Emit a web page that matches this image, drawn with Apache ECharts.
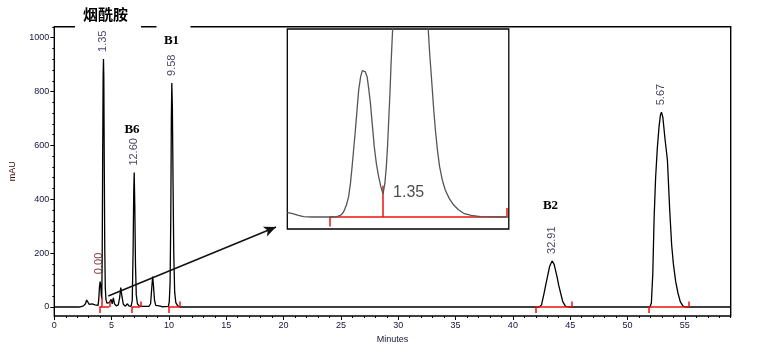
<!DOCTYPE html>
<html>
<head>
<meta charset="utf-8">
<script src="https://cdn.jsdelivr.net/npm/echarts@6/dist/echarts.min.js"></script>
<style>
html, body { margin: 0; padding: 0; background: #fff; }
#chart { width: 757px; height: 352px; }
</style>
</head>
<body>
<div id="chart"></div>
<script>
// chromatogram trace (minutes / mAU)
const traceTime = [0, 2.2, 2.3, 2.55, 2.72, 2.82, 2.88, 2.95, 3.05, 3.2, 3.3, 3.4, 3.55, 3.7, 3.82, 3.88, 3.94, 4.0, 4.05, 4.1,
  4.14, 4.18, 4.22, 4.26, 4.29, 4.32, 4.36, 4.4, 4.45, 4.5, 4.58, 4.68, 4.78, 4.86, 4.96, 5.05, 5.15, 5.25, 5.4, 5.58,
  5.7, 5.8, 5.9, 6.02, 6.2, 6.38, 6.5, 6.7, 6.8, 6.87, 6.93, 6.97, 7.02, 7.08, 7.15, 7.25, 7.4, 7.6, 8.25, 8.4,
  8.5, 8.58, 8.65, 8.74, 8.85, 9.0, 9.15, 9.4, 9.95, 10.03, 10.1, 10.16, 10.21, 10.25, 10.3, 10.36, 10.42, 10.5, 10.6, 10.75,
  10.95, 17.82, 17.9, 17.98, 42.3, 42.5, 42.72, 42.88, 43.02, 43.2, 43.42, 43.6, 43.85, 44.0, 44.17, 44.35, 44.58, 44.8,
  51.95, 52.08, 52.2, 52.32, 52.45, 52.6, 52.75, 52.88, 52.96, 53.08, 53.28, 53.48, 53.68, 53.85, 54.0, 54.2, 54.4, 54.6,
  54.84, 55.1, 59]
const traceMAU = [0, 0, 3, 4, 12, 26, 30, 22, 10, 9, 12, 5, 8, 3, 6, 30, 75, 94, 80, 45,
  30, 200, 560, 860, 921, 850, 520, 220, 70, 30, 14, 8, 16, 10, 28, 12, 34, 12, 4, 8,
  35, 72, 40, 10, 3, 12, 4, 2, 25, 200, 430, 499, 380, 160, 45, 12, 4, 2, 2, 12,
  70, 113, 80, 25, 6, 10, 4, 1, 2, 20, 90, 330, 700, 832, 740, 450, 200, 55, 16, 5,
  0, 0, 4, 0, 0, 8, 51, 85, 113, 150, 171, 158, 113, 80, 51, 20, 3, 0,
  0, 15, 120, 330, 480, 590, 670, 715, 723, 705, 620, 546, 360, 230, 160, 95, 52, 20,
  3, 0, 0]

// peak retention labels
const peakTime = [3.92, 4.26, 6.96, 10.25, 43.4, 52.96]
const peakHeight = [96, 921, 499, 832, 171, 723]
const peakLabel = ['0.00', '1.35', '12.60', '9.58', '32.91', '5.67']

// integration baselines (red)
const intStart = [3.93, 6.77, 9.94, 42.0, 51.87]
const intEnd = [4.8, 7.5, 10.98, 45.16, 55.36]
const intSplit = [4.13]

// inset (zoom of first peak group)
const insetTime = [3.635, 3.652, 3.669, 3.695, 3.724, 3.77, 3.815, 3.87, 3.907, 3.928, 3.943, 3.958, 3.97, 3.98, 3.989,
  3.998, 4.007, 4.016, 4.025, 4.036, 4.045, 4.052, 4.06, 4.071, 4.08, 4.089, 4.1, 4.11, 4.122, 4.134, 4.146,
  4.158, 4.168, 4.176, 4.183, 4.189, 4.196, 4.202, 4.211, 4.23, 4.3, 4.38, 4.404, 4.413, 4.42, 4.426, 4.435,
  4.444, 4.455, 4.467, 4.482, 4.498, 4.52, 4.544, 4.57, 4.598, 4.64, 4.69, 4.84]
const insetMAU = [2.7, 2.4, 1.9, 1.0, 0.2, 0, 0, 0, 0.2, 1.2, 3.3, 7.5, 12.7, 21, 31.5,
  43, 54.4, 67, 79.5, 88, 91.5, 92, 91, 87.8, 80, 71.2, 57, 44, 33, 25.2, 19,
  14.4, 21, 31.5, 45, 60.7, 78, 96.2, 119, 400, 921, 400, 119, 102, 91, 81.5, 67,
  54.4, 42, 31.5, 23, 16.9, 11.5, 7.5, 4.5, 2.3, 1.0, 0.2, 0]
const insetIntStart = 3.865
const insetIntSplit = 4.158
const insetIntEnd = 4.833
const insetLabel = '1.35'

// axis ticks
const xMajor = [0, 5, 10, 15, 20, 25, 30, 35, 40, 45, 50, 55]
const yMajor = [0, 200, 400, 600, 800, 1000]
const yMinor = [0, 40, 80, 120, 160, 200, 240, 280, 320, 360, 400, 440, 480, 520, 560, 600, 640, 680, 720, 760, 800,
  840, 880, 920, 960, 1000, 1040]

const labelColor = '#14143a'
const red = '#ee1111'

const chart = echarts.init(document.getElementById('chart'))

const intLines = []
intStart.forEach((s, i) => {
  intLines.push([{ coord: [s, 0] }, { coord: [intEnd[i], 0] }])
  intLines.push([{ coord: [s, 0] }, { coord: [s, -22] }])
  intLines.push([{ coord: [intEnd[i], 0] }, { coord: [intEnd[i], 20] }])
})
intSplit.forEach((s) => {
  intLines.push([{ coord: [s, 0] }, { coord: [s, 37] }])
})

const option = {
  animation: false,
  backgroundColor: '#fff',
  grid: [
    { left: 54.3, top: 26.7, right: 26.3, bottom: 36, show: true, borderColor: '#000', borderWidth: 1.4,
      backgroundColor: 'transparent', outerBoundsMode: 'none', containLabel: false },
    { left: 287.3, top: 29, width: 221.5, height: 200, show: true, borderColor: '#000', borderWidth: 1.3,
      backgroundColor: '#fff', outerBoundsMode: 'none', containLabel: false, z: 3 }
  ],
  xAxis: [
    {
      gridIndex: 0, type: 'value', min: 0, max: 59, position: 'bottom',
      axisLine: { show: false, onZero: false },
      axisTick: { show: true, customValues: xMajor, length: 4, lineStyle: { color: '#000', width: 1 } },
      axisLabel: { customValues: xMajor, color: labelColor, fontSize: 9, fontFamily: 'Liberation Sans', margin: 5,
        formatter: (v) => String(v) },
      splitLine: { show: false },
      name: 'Minutes', nameLocation: 'middle', nameGap: 17,
      nameTextStyle: { color: labelColor, fontSize: 9, fontFamily: 'Liberation Sans' }
    },
    {
      gridIndex: 0, type: 'value', min: 0, max: 59, interval: 1, position: 'bottom',
      axisLine: { show: false, onZero: false },
      axisTick: { show: true, length: 2, lineStyle: { color: '#000', width: 1 } },
      axisLabel: { show: false },
      splitLine: { show: false }
    },
    { gridIndex: 1, type: 'value', min: 3.635, max: 4.845, show: false, axisLine: { onZero: false } }
  ],
  yAxis: [
    {
      gridIndex: 0, type: 'value', min: -33.4, max: 1040.8, position: 'left',
      axisLine: { show: false, onZero: false },
      axisTick: { show: true, customValues: yMajor, length: 4, lineStyle: { color: '#000', width: 1 } },
      axisLabel: { customValues: yMajor, color: labelColor, fontSize: 9, fontFamily: 'Liberation Sans', margin: 5,
        formatter: (v) => String(v) },
      splitLine: { show: false },
      name: 'mAU', nameLocation: 'middle', nameGap: 37,
      nameTextStyle: { color: '#3a0c0c', fontSize: 9, fontFamily: 'Liberation Sans' }
    },
    {
      gridIndex: 0, type: 'value', min: -33.4, max: 1040.8, position: 'left',
      axisLine: { show: false, onZero: false },
      axisTick: { show: true, customValues: yMinor, length: 2, lineStyle: { color: '#000', width: 1 } },
      axisLabel: { show: false },
      splitLine: { show: false }
    },
    { gridIndex: 1, type: 'value', min: -7.5, max: 117.6, show: false, axisLine: { onZero: false } }
  ],
  series: [
    {
      name: 'trace',
      type: 'line',
      xAxisIndex: 0, yAxisIndex: 0,
      data: traceTime.map((t, i) => [t, traceMAU[i]]),
      showSymbol: false,
      lineStyle: { color: '#000', width: 1.3 },
      z: 2,
      markLine: {
        silent: true,
        symbol: ['none', 'none'],
        label: { show: false },
        lineStyle: { color: red, width: 1.5, type: 'solid' },
        data: intLines
      }
    },
    {
      name: 'peaks',
      type: 'scatter',
      xAxisIndex: 0, yAxisIndex: 0,
      symbolSize: 0,
      data: peakTime.map((t, i) => ({
        value: [t, peakHeight[i]],
        name: peakLabel[i],
        label: { color: i === 0 ? '#5a0c0c' : labelColor }
      })),
      label: {
        show: true,
        position: 'top',
        distance: 7,
        rotate: 90,
        align: 'left',
        verticalAlign: 'middle',
        formatter: (p) => p.name,
        fontSize: 11,
        fontFamily: 'Liberation Sans'
      },
      z: 4,
      markLine: {
        silent: true,
        symbol: ['none', 'arrow'],
        symbolSize: [8, 12],
        label: { show: false },
        lineStyle: { color: '#111', width: 1.5, type: 'solid' },
        data: [[{ coord: [4.71, 41] }, { coord: [19.34, 297] }]]
      }
    },
    {
      name: 'inset',
      type: 'line',
      xAxisIndex: 2, yAxisIndex: 2,
      data: insetTime.map((t, i) => [t, insetMAU[i]]),
      showSymbol: false,
      lineStyle: { color: '#555', width: 1.3 },
      z: 5,
      markLine: {
        silent: true,
        symbol: ['none', 'none'],
        label: { show: false },
        lineStyle: { color: red, width: 1.5, type: 'solid' },
        data: [
          [{ coord: [insetIntStart, 0] }, { coord: [insetIntEnd, 0] }],
          [{ coord: [insetIntStart, 0] }, { coord: [insetIntStart, -6] }],
          [{ coord: [insetIntSplit, 0] }, { coord: [insetIntSplit, 19.6] }],
          [{ coord: [insetIntEnd, 0] }, { coord: [insetIntEnd, 5.6] }]
        ]
      }
    },
    {
      name: 'insetLabel',
      type: 'scatter',
      xAxisIndex: 2, yAxisIndex: 2,
      symbolSize: 0,
      data: [{ value: [insetIntSplit, 15], name: insetLabel }],
      label: {
        show: true, position: 'right', distance: 10,
        formatter: (p) => p.name,
        color: '#222', fontSize: 16, fontFamily: 'Liberation Sans'
      },
      z: 6
    }
  ],
  graphic: [
    // gaps in the top frame
    { type: 'rect', z: 100, shape: { x: 75, y: 23, width: 66, height: 7 }, style: { fill: '#fff' } },
    { type: 'rect', z: 100, shape: { x: 156.5, y: 23, width: 34, height: 7 }, style: { fill: '#fff' } },
    { type: 'text', z: 101, x: 105.5, y: 14,
      style: { text: '烟酰胺', font: 'bold 15px "Noto Sans CJK SC"', fill: '#000', align: 'center', verticalAlign: 'middle' } },
    { type: 'text', z: 101, x: 171.5, y: 41,
      style: { text: 'B1', font: 'bold 13px "Liberation Serif"', fill: '#000', align: 'center', verticalAlign: 'middle' } },
    { type: 'text', z: 101, x: 132, y: 129.5,
      style: { text: 'B6', font: 'bold 13px "Liberation Serif"', fill: '#000', align: 'center', verticalAlign: 'middle' } },
    { type: 'text', z: 101, x: 550.5, y: 205.5,
      style: { text: 'B2', font: 'bold 13px "Liberation Serif"', fill: '#000', align: 'center', verticalAlign: 'middle' } }
  ]
}

chart.setOption(option)
</script>
</body>
</html>
